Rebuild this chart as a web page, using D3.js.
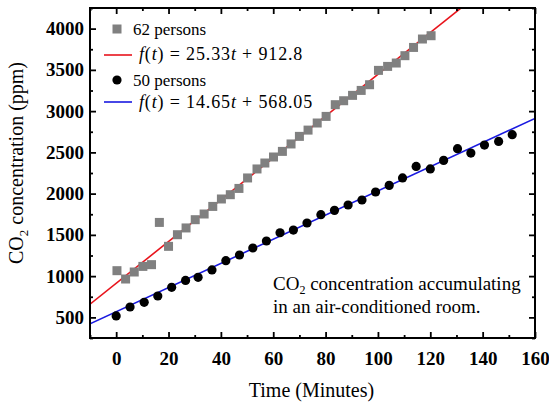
<!DOCTYPE html>
<html><head><meta charset="utf-8">
<script src="https://cdn.jsdelivr.net/npm/d3@7"></script>
<style>body{margin:0;background:#fff}svg{display:block}</style>
</head><body>
<svg id="c" width="549" height="405"></svg>
<script>
// 62 persons (squares)
const t62 = [0.3,3.6,6.9,10.2,13.5,16.5,20,23.4,26.7,30.2,33.6,36.9,40.2,43.6,46.9,50.2,53.8,56.8,60.1,63.5,66.8,70,73.3,76.8,80.2,83.7,86.9,90.3,93.6,96.8,100.2,103.7,107,110.3,113.6,117,120.3];
const c62 = [1066,965,1050,1118,1139,1651,1361,1502,1584,1684,1753,1845,1935,1987,2063,2190,2299,2371,2444,2512,2602,2694,2770,2856,2936,3078,3126,3191,3251,3320,3494,3542,3583,3672,3772,3874,3914];
// 50 persons (circles)
const t50 = [0,5.3,10.7,15.9,21.2,26.5,31.3,36.6,41.9,47.1,52.2,57.4,62.6,67.7,72.9,78.2,83.4,88.6,93.9,99.1,104.3,109.4,114.6,120,125.1,130.4,135.5,140.7,146.1,151.3];
const c50 = [517,626,682,759,864,948,985,1075,1187,1256,1341,1426,1526,1558,1644,1745,1797,1862,1923,2020,2100,2190,2330,2299,2403,2545,2492,2589,2633,2714];
// linear fits
const fit62 = {a:25.33, b:912.8, label:"25.33", label2:"912.8"};
const fit50 = {a:14.65, b:568.05, label:"14.65", label2:"568.05"};
const xTicks = [0,20,40,60,80,100,120,140,160];
const yTicks = [500,1000,1500,2000,2500,3000,3500,4000];

const svg = d3.select("#c");
const L=90,R=535,T=8,B=338;
const x = d3.scaleLinear().domain([-10,160]).range([L,R]);
const y = d3.scaleLinear().domain([250,4250]).range([B,T]);
const serif = "Liberation Serif";

svg.append("defs").append("clipPath").attr("id","clip")
  .append("rect").attr("x",L).attr("y",T).attr("width",R-L).attr("height",B-T);

const g = svg.append("g").attr("clip-path","url(#clip)");
function fitLine(f,color){
  const xs = [-10,160];
  g.append("line").attr("x1",x(xs[0])).attr("y1",y(f.a*xs[0]+f.b))
   .attr("x2",x(xs[1])).attr("y2",y(f.a*xs[1]+f.b))
   .attr("stroke",color).attr("stroke-width",1.6);
}
fitLine(fit62,"#e8141c");
fitLine(fit50,"#1a1ae0");

const sq=9;
g.selectAll(".sq").data(t62.map((t,i)=>[t,c62[i]])).enter().append("rect")
  .attr("x",d=>x(d[0])-sq/2).attr("y",d=>y(d[1])-sq/2).attr("width",sq).attr("height",sq)
  .attr("fill","#808080");
g.selectAll(".ci").data(t50.map((t,i)=>[t,c50[i]])).enter().append("circle")
  .attr("cx",d=>x(d[0])).attr("cy",d=>y(d[1])).attr("r",4.6).attr("fill","#000");

// axes
const minorX = d3.range(-10,161,10);
const minorY = d3.range(250,4251,250);
function ax(axis, tr){ return svg.append("g").attr("transform",tr).call(axis); }
ax(d3.axisBottom(x).tickValues(xTicks).tickSize(-6).tickPadding(14).tickFormat(d3.format("d")),`translate(0,${B})`);
ax(d3.axisTop(x).tickValues(xTicks).tickSize(-6).tickFormat(""),`translate(0,${T})`);
ax(d3.axisLeft(y).tickValues(yTicks).tickSize(-6).tickPadding(6).tickFormat(d3.format("d")),`translate(${L},0)`);
ax(d3.axisRight(y).tickValues(yTicks).tickSize(-6).tickFormat(""),`translate(${R},0)`);
ax(d3.axisBottom(x).tickValues(minorX.filter(v=>v%20!==0)).tickSize(-3).tickFormat(""),`translate(0,${B})`);
ax(d3.axisTop(x).tickValues(minorX.filter(v=>v%20!==0)).tickSize(-3).tickFormat(""),`translate(0,${T})`);
ax(d3.axisLeft(y).tickValues(minorY.filter(v=>v%500!==0)).tickSize(-3).tickFormat(""),`translate(${L},0)`);
ax(d3.axisRight(y).tickValues(minorY.filter(v=>v%500!==0)).tickSize(-3).tickFormat(""),`translate(${R},0)`);
svg.selectAll(".domain").remove();
svg.selectAll("g").filter(function(){return this.getAttribute("font-family");}).attr("font-family",serif);
svg.selectAll(".tick line").attr("stroke","#000").attr("stroke-width",1.8);
svg.selectAll(".tick text").attr("font-family",serif).attr("font-weight","bold").attr("font-size",19).attr("fill","#000");
svg.append("rect").attr("x",L).attr("y",T).attr("width",R-L).attr("height",B-T)
  .attr("fill","none").attr("stroke","#000").attr("stroke-width",2);

// axis titles
svg.append("text").attr("x",(L+R)/2-1).attr("y",397).attr("text-anchor","middle")
  .attr("font-family",serif).attr("font-weight","normal").attr("font-size",20).text("Time (Minutes)");
const yt = svg.append("text").attr("transform","translate(23,163) rotate(-90)").attr("text-anchor","middle")
  .attr("font-family",serif).attr("font-weight","normal").attr("font-size",20);
yt.append("tspan").text("CO");
yt.append("tspan").attr("font-size",13).attr("dy",5).text("2");
yt.append("tspan").attr("dy",-5).text(" concentration (ppm)");

// legend
const lg = svg.append("g").attr("font-family",serif).attr("font-weight","normal").attr("font-size",17);
lg.append("rect").attr("x",117-4.5).attr("y",29-4.5).attr("width",9).attr("height",9).attr("fill","#808080");
lg.append("text").attr("x",133).attr("y",35).text("62 persons");
lg.append("line").attr("x1",104).attr("x2",132).attr("y1",55).attr("y2",55).attr("stroke","#e8141c").attr("stroke-width",1.6);
lg.append("circle").attr("cx",117).attr("cy",80).attr("r",4.6).attr("fill","#000");
lg.append("text").attr("x",133).attr("y",86).text("50 persons");
lg.append("line").attr("x1",104).attr("x2",132).attr("y1",102).attr("y2",102).attr("stroke","#1a1ae0").attr("stroke-width",1.6);
function formula(yy,f){
  const t = lg.append("text").attr("x",139).attr("y",yy).attr("font-size",18).attr("letter-spacing",0.85);
  t.append("tspan").attr("font-style","italic").text("f");
  t.append("tspan").text("(");
  t.append("tspan").attr("font-style","italic").text("t");
  t.append("tspan").text(") = "+f.label);
  t.append("tspan").attr("font-style","italic").text("t");
  t.append("tspan").text(" + "+f.label2);
}
formula(60,fit62);
formula(108,fit50);

// annotation
const an = svg.append("g").attr("font-family",serif).attr("font-weight","normal").attr("font-size",19);
const a1 = an.append("text").attr("x",273).attr("y",290);
a1.append("tspan").text("CO");
a1.append("tspan").attr("font-size",12).attr("dy",4).text("2");
a1.append("tspan").attr("dy",-4).text(" concentration accumulating");
an.append("text").attr("x",273).attr("y",313).text("in an air-conditioned room.");
</script>
</body></html>
